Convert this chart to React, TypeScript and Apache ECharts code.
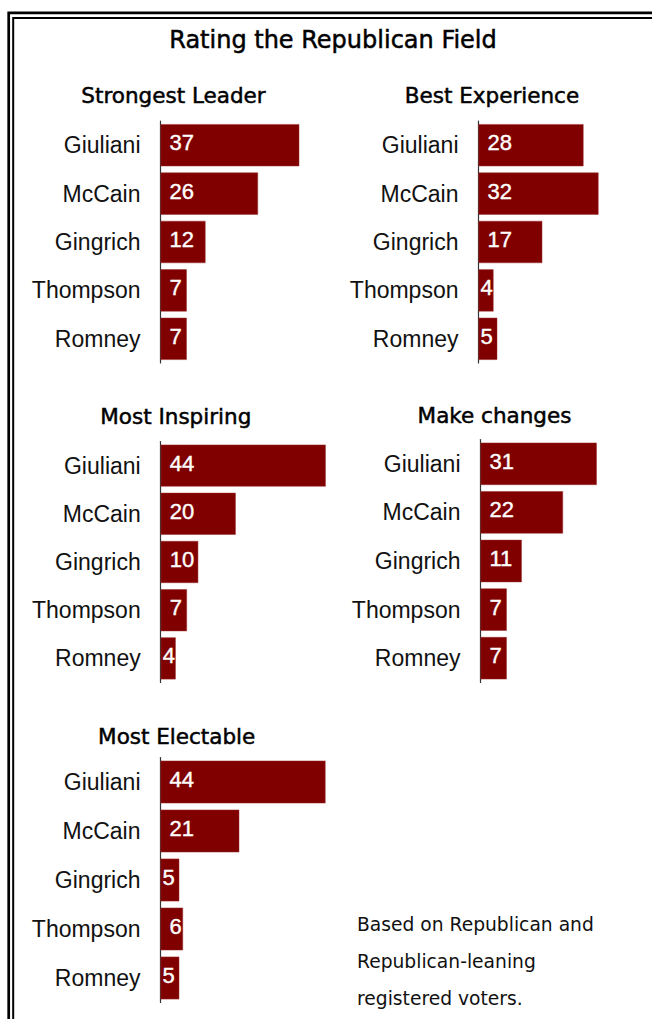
import React, { useEffect, useRef } from "react";
import * as echarts from "echarts";

const categories = ["Giuliani", "McCain", "Gingrich", "Thompson", "Romney"];
const mainTitle = "Rating the Republican Field";
const panelTitles = ["Strongest Leader", "Best Experience", "Most Inspiring", "Make changes", "Most Electable"];
const strongestLeader = [37, 26, 12, 7, 7];
const bestExperience = [28, 32, 17, 4, 5];
const mostInspiring = [44, 20, 10, 7, 4];
const makeChanges = [31, 22, 11, 7, 7];
const mostElectable = [44, 21, 5, 6, 5];
const footnoteLines = ["Based on Republican and", "Republican-leaning", "registered voters."];

const panelValues = [strongestLeader, bestExperience, mostInspiring, makeChanges, mostElectable];

// layout (pixels)
const grids = [
  { left: 160.5, top: 121, height: 242 },
  { left: 478.5, top: 121, height: 242 },
  { left: 160.7, top: 441.5, height: 241 },
  { left: 480.5, top: 439.5, height: 243 },
  { left: 160.5, top: 757.5, height: 245 },
];
const titlePos = [
  [173.5, 95.5],
  [492, 95.3],
  [175.8, 416.5],
  [494.5, 415],
  [176.7, 736.5],
];
const AXIS_MAX = 45;
const PX_PER_UNIT = 3.75;
const FONT = "'Liberation Sans', Arial, sans-serif";
const TFONT = "'DejaVu Sans', sans-serif";
const BAR = "#800000";

export default function App() {
  const ref = useRef<HTMLDivElement>(null);
  useEffect(() => {
    if (!ref.current) return;
    const chart = echarts.init(ref.current, null, { renderer: "svg" });
    const graphic: any[] = [
      {
        type: "rect",
        shape: { x: 8.7, y: 12.8, width: 700, height: 1100 },
        style: { fill: "none", stroke: "#000", lineWidth: 2.7 },
        silent: true,
      },
      {
        type: "rect",
        shape: { x: 13.2, y: 17.9, width: 700, height: 1100 },
        style: { fill: "none", stroke: "#000", lineWidth: 2 },
        silent: true,
      },
      {
        type: "text",
        x: 333,
        y: 39.5,
        style: {
          text: mainTitle,
          font: `24px ${TFONT}`,
          fill: "#000",
          stroke: "#000",
          lineWidth: 0.5,
          align: "center",
          verticalAlign: "middle",
          textAlign: "center",
          textVerticalAlign: "middle",
        },
      },
    ];
    panelTitles.forEach((t, i) => {
      graphic.push({
        type: "text",
        x: titlePos[i][0],
        y: titlePos[i][1],
        style: {
          text: t,
          font: `21.5px ${TFONT}`,
          fill: "#000",
          stroke: "#000",
          lineWidth: 0.5,
          align: "center",
          verticalAlign: "middle",
          textAlign: "center",
          textVerticalAlign: "middle",
        },
      });
    });
    footnoteLines.forEach((t, i) => {
      graphic.push({
        type: "text",
        x: 357,
        y: 924 + i * 37,
        style: {
          text: t,
          font: `18.7px ${TFONT}`,
          fill: "#111",
          align: "left",
          verticalAlign: "middle",
          textAlign: "left",
          textVerticalAlign: "middle",
        },
      });
    });

    const option: any = {
      animation: false,
      backgroundColor: "#fff",
      graphic,
      grid: grids.map((g) => ({
        left: g.left,
        top: g.top,
        height: g.height,
        width: AXIS_MAX * PX_PER_UNIT,
        containLabel: false,
      })),
      xAxis: grids.map((_, i) => ({
        type: "value",
        gridIndex: i,
        min: 0,
        max: AXIS_MAX,
        show: false,
      })),
      yAxis: grids.map((_, i) => ({
        type: "category",
        gridIndex: i,
        inverse: true,
        data: categories,
        axisLine: { show: true, lineStyle: { color: "#333", width: 1.2 } },
        axisTick: { show: false },
        splitLine: { show: false },
        axisLabel: {
          color: "#111",
          fontSize: 23,
          fontFamily: FONT,
          margin: 20,
          padding: [0, 0, 5, 0],
        },
      })),
      series: panelValues.map((vals, i) => ({
        type: "bar",
        xAxisIndex: i,
        yAxisIndex: i,
        barWidth: "87%",
        itemStyle: { color: BAR, borderColor: "#9a3030", borderWidth: 0.5 },
        label: {
          show: true,
          position: "insideLeft",
          color: "#fff",
          fontSize: 22,
          fontFamily: FONT,
          textBorderColor: "#fff",
          textBorderWidth: 0.4,
          offset: [0, -2.5],
        },
        data: vals.map((v) => ({ value: v, label: { distance: v <= 5 ? 2 : 9 } })),
      })),
    };
    chart.setOption(option);
    return () => chart.dispose();
  }, []);
  return (
    <div
      ref={ref}
      style={{ position: "absolute", left: 0, top: 0, width: 652, height: 1019, background: "#fff" }}
    />
  );
}
